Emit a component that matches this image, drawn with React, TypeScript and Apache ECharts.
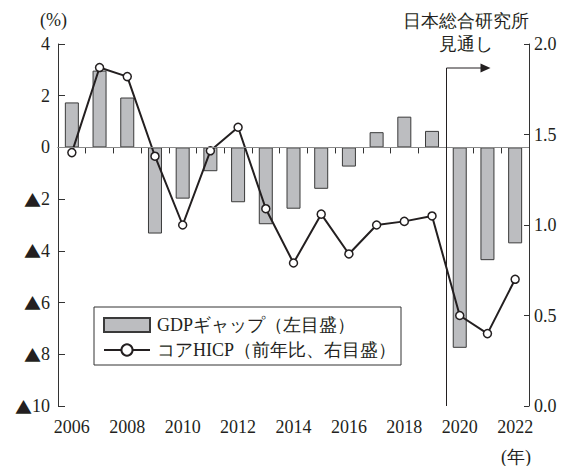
import React, { useEffect, useRef } from "react";
import * as echarts from "echarts";

const years = ["2006","2007","2008","2009","2010","2011","2012","2013","2014","2015","2016","2017","2018","2019","2020","2021","2022"];
const gdpGap = [1.74, 2.97, 1.93, -3.33, -1.98, -0.92, -2.12, -2.97, -2.37, -1.6, -0.74, 0.59, 1.19, 0.64, -7.75, -4.36, -3.71];
const coreHicp = [1.40, 1.87, 1.82, 1.38, 1.00, 1.41, 1.54, 1.09, 0.79, 1.06, 0.84, 1.00, 1.02, 1.05, 0.50, 0.40, 0.70];
const gapName = "GDPギャップ（左目盛）";
const hicpName = "コアHICP（前年比、右目盛）";
const forecastStart = "2020";

const FONT = "Liberation Serif";
const INK = "#231f20";

export default function App() {
  const ref = useRef<HTMLDivElement>(null);
  useEffect(() => {
    if (!ref.current) return;
    const chart = echarts.init(ref.current, undefined, { renderer: "svg" });
    chart.setOption({
      animation: false,
      grid: { left: 58, right: 39, top: 44, bottom: 60, containLabel: false },
      legend: {
        orient: "vertical",
        left: 94,
        top: 307,
        padding: [9, 5, 6, 9],
        itemGap: 7,
        itemWidth: 46,
        itemHeight: 14,
        borderColor: "#333",
        borderWidth: 1,
        backgroundColor: "#fff",
        textStyle: { fontSize: 18, color: INK, fontFamily: FONT, lineHeight: 18, padding: [0, 0, 0, 2] },
        data: [
          { name: gapName, icon: "rect" },
          { name: hicpName },
        ],
      },
      xAxis: {
        type: "category",
        data: years,
        boundaryGap: true,
        axisLine: { lineStyle: { color: "#333", width: 1 } },
        axisTick: { show: true, interval: 0, length: 6, lineStyle: { color: "#333" } },
        axisLabel: { interval: 1, fontSize: 18, color: INK, fontFamily: FONT, margin: 12 },
      },
      yAxis: [
        {
          type: "value",
          min: -10,
          max: 4,
          interval: 2,
          splitLine: { show: false },
          axisLine: { show: true, lineStyle: { color: "#333" } },
          axisTick: { show: true, inside: true, length: 7, lineStyle: { color: "#333" } },
          axisLabel: {
            fontSize: 18,
            color: INK,
            fontFamily: FONT,
            margin: 8,
            formatter: (v: number) => (v < 0 ? "{t|▲}" + -v : String(v)),
            rich: {
              t: { fontFamily: "Noto Sans CJK JP", fontSize: 17, color: INK },
            },
          },
        },
        {
          type: "value",
          min: 0,
          max: 2,
          interval: 0.5,
          splitLine: { show: false },
          axisLine: { show: true, lineStyle: { color: "#333" } },
          axisTick: { show: true, inside: true, length: 5, lineStyle: { color: "#333" } },
          axisLabel: {
            fontSize: 18,
            color: INK,
            fontFamily: FONT,
            margin: 5,
            formatter: (v: number) => v.toFixed(1),
          },
        },
      ],
      series: [
        {
          name: gapName,
          type: "bar",
          data: gdpGap,
          barWidth: 14,
          itemStyle: { color: "#bcbdc0", borderColor: "#3a3a3a", borderWidth: 1 },
          markLine: {
            silent: true,
            symbol: "none",
            label: { show: false },
            lineStyle: { color: "#8a8a8a", type: "solid", width: 1 },
            data: [{ yAxis: 0 }],
          },
          z: 2,
        },
        {
          name: hicpName,
          type: "line",
          yAxisIndex: 1,
          data: coreHicp,
          symbol: "circle",
          symbolSize: 8,
          lineStyle: { color: INK, width: 2 },
          itemStyle: { color: "#fff", borderColor: INK, borderWidth: 1.5 },
          z: 3,
        },
      ],
    });

    const idx = years.indexOf(forecastStart);
    const p1 = chart.convertToPixel({ xAxisIndex: 0 }, years[idx - 1]) as number;
    const p2 = chart.convertToPixel({ xAxisIndex: 0 }, years[idx]) as number;
    const xf = Math.round((p1 + p2) / 2) + 0.5;
    const yBottom = chart.convertToPixel({ yAxisIndex: 0 }, -10) as number;
    const yArrow = 68;

    chart.setOption({
      graphic: [
        {
          type: "polyline",
          shape: { points: [[xf, yBottom], [xf, yArrow], [xf + 35, yArrow]] },
          style: { stroke: INK, lineWidth: 1, fill: null },
          z: 10,
        },
        {
          type: "polygon",
          shape: { points: [[xf + 34, yArrow - 4.5], [xf + 44, yArrow], [xf + 34, yArrow + 4.5]] },
          style: { fill: INK },
          z: 10,
        },
        {
          type: "text",
          x: 466,
          y: 21,
          style: { text: "日本総合研究所", fontSize: 18, fontFamily: FONT, fill: INK, align: "center", verticalAlign: "middle" },
        },
        {
          type: "text",
          x: 466,
          y: 44,
          style: { text: "見通し", fontSize: 18, fontFamily: FONT, fill: INK, align: "center", verticalAlign: "middle" },
        },
        {
          type: "text",
          x: 40,
          y: 20,
          style: { text: "(%)", fontSize: 18, fontFamily: FONT, fill: INK, align: "left", verticalAlign: "middle" },
        },
        {
          type: "text",
          x: 531,
          y: 457,
          style: { text: "(年)", fontSize: 18, fontFamily: FONT, fill: INK, align: "right", verticalAlign: "middle" },
        },
      ],
    });

    return () => chart.dispose();
  }, []);
  return (
    <div
      ref={ref}
      style={{ position: "fixed", left: 0, top: 0, width: 568, height: 466, background: "#fff" }}
    />
  );
}
